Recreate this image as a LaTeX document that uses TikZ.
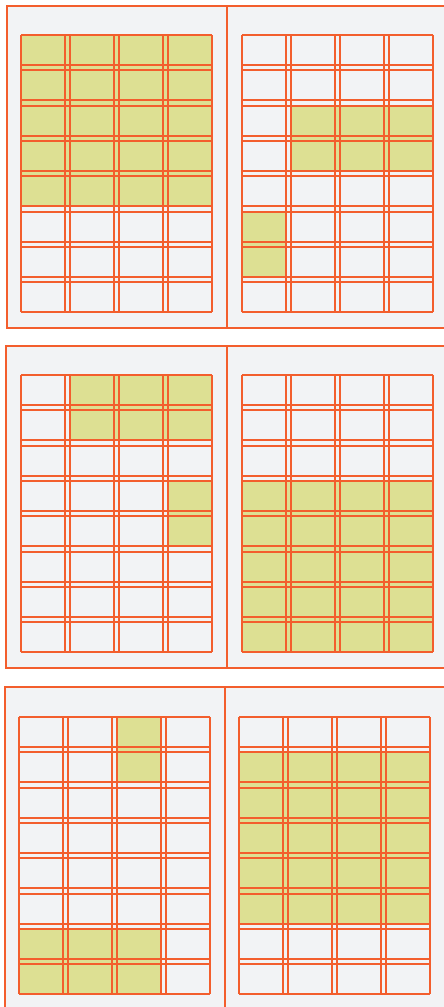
\documentclass[tikz,border=0pt]{standalone}
\definecolor{ln}{HTML}{F35E2D}
\definecolor{yl}{HTML}{DDE093}
\definecolor{pg}{HTML}{F2F3F5}
\tikzset{
  panel/.style={draw=ln,fill=pg,line width=1.9pt},
  gridline/.style={draw=ln,line width=1.9pt},
  blk/.style={fill=yl}
}
% grid of 4 x 8 cells, double lines spanning the whole grid
\newcommand\gridat[2]{%
  \foreach \i in {0,...,3}{%
    \draw[gridline] ({#1+\i*49},{#2}) -- ({#1+\i*49},{#2+277});
    \draw[gridline] ({#1+\i*49+44},{#2}) -- ({#1+\i*49+44},{#2+277});}
  \foreach \j in {0,...,7}{%
    \pgfmathsetmacro\yy{#2+round(\j*35.3)}
    \draw[gridline] ({#1},{\yy}) -- ({#1+191},{\yy});
    \draw[gridline] ({#1},{\yy+30}) -- ({#1+191},{\yy+30});}}
\newcommand\blkat[6]{%
  \fill[blk] ({#1+(#3-1)*49},{#2+round((#4-1)*35.3)}) rectangle ({#1+(#5-1)*49+44},{#2+round((#6-1)*35.3)+30});}
\begin{document}
\begin{tikzpicture}[x=1pt,y=-1pt]
\useasboundingbox (0,0) rectangle (444,1007);
\clip (0,0) rectangle (444,1007);
% row 1
\draw[panel] (7,6) rectangle (227,328);
\draw[panel] (227,6) rectangle (470,328);
\blkat{21}{35}{1}{1}{4}{5}
\blkat{242}{35}{2}{3}{4}{4}
\blkat{242}{35}{1}{6}{1}{7}
\gridat{21}{35}
\gridat{242}{35}
% row 2
\draw[panel] (6,346) rectangle (227,668);
\draw[panel] (227,346) rectangle (470,668);
\blkat{21}{375}{2}{1}{4}{2}
\blkat{21}{375}{4}{4}{4}{5}
\blkat{242}{375}{1}{4}{4}{8}
\gridat{21}{375}
\gridat{242}{375}
% row 3
\draw[panel] (5,687) rectangle (225,1030);
\draw[panel] (225,687) rectangle (470,1030);
\blkat{19}{717}{3}{1}{3}{2}
\blkat{19}{717}{1}{7}{3}{8}
\blkat{239}{717}{1}{2}{4}{6}
\gridat{19}{717}
\gridat{239}{717}
\end{tikzpicture}
\end{document}
